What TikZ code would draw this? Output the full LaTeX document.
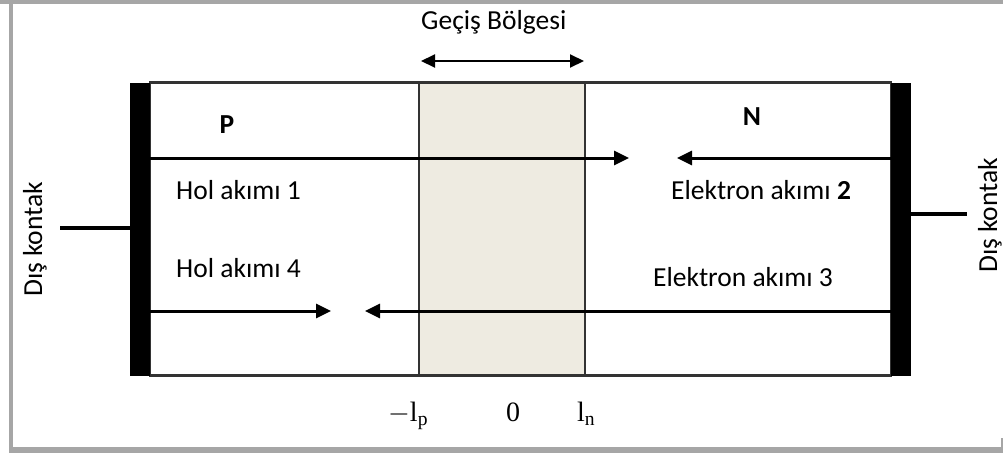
\documentclass[tikz,border=0pt]{standalone}
\usepackage{fix-cm}
\usepackage{fontspec}
\setmainfont{Carlito}
\setmathrm{Liberation Serif}
\usetikzlibrary{arrows.meta}

\definecolor{framegray}{HTML}{A6A6A6}
\definecolor{zonefill}{HTML}{EEEBE1}
\definecolor{edgegray}{HTML}{333333}

\begin{document}
\begin{tikzpicture}[x=1pt,y=-1pt,
  framepart/.style={fill=framegray,draw=none},
  contactbar/.style={fill=black,draw=none,inner sep=0pt,minimum width=20pt,minimum height=293pt},
  contactwire/.style={line width=4pt},
  current/.style={line width=3pt,-{Triangle[length=15pt,width=14pt]}},
  span/.style={line width=2pt,{Triangle[length=14pt,width=13pt]}-{Triangle[length=14pt,width=13pt]}},
  lbl/.style={font=\fontsize{27.5}{33}\selectfont,inner sep=0pt},
  mlbl/.style={font=\fontsize{28}{34}\selectfont,inner sep=0pt},
]
\useasboundingbox (0,0) rectangle (1003,453);

% outer frame
\fill[framepart] (0,0) rectangle (1003,4);
\fill[framepart] (9,0) rectangle (13,453);
\fill[framepart] (9,447) rectangle (1003,453);
\fill[framepart] (1001,438) rectangle (1003,447);

% semiconductor body and depletion zone
\node[draw=edgegray,line width=1.8pt,inner sep=0pt,minimum width=741pt,minimum height=292pt] (body) at (520.5,229) {};
\node[fill=zonefill,draw=edgegray,line width=1.5pt,inner sep=0pt,minimum width=166pt,minimum height=292pt] (zone) at (502,229) {};
\draw[edgegray,line width=1.8pt] (body.north west) -- (body.north east);
\draw[edgegray,line width=1.8pt] (body.south west) -- (body.south east);

% metal contacts
\node[contactbar] (pbar) at (140,229.5) {};
\node[contactbar] (nbar) at (901,229.5) {};
\coordinate (lwire) at (60,228);
\coordinate (rwire) at (967,214);
\draw[contactwire] (lwire) -- (lwire -| pbar.west);
\draw[contactwire] (nbar.east |- rwire) -- (rwire);

% width of the transition region
\coordinate (zl) at (421,61);
\coordinate (zr) at (584,61);
\draw[span] (zl) -- (zr);
\node[lbl,anchor=base west] (title) at (421,29) {Geçiş Bölgesi};

% currents
\coordinate (t1) at (629,158);
\coordinate (t2) at (677,158);
\coordinate (t4) at (331,311);
\coordinate (t3) at (365,311);
\draw[current] (t1 -| pbar.east) -- (t1);
\draw[current] (t2 -| nbar.west) -- (t2);
\draw[current] (t4 -| pbar.east) -- (t4);
\draw[current] (t3 -| nbar.west) -- (t3);

% labels
\node[lbl,font=\fontsize{27.5}{33}\selectfont\bfseries] (pside) at (227,125) {P};
\node[lbl,font=\fontsize{27.5}{33}\selectfont\bfseries] (nside) at (752,117) {N};
\node[lbl,anchor=base west] (c1) at (176,199) {Hol akımı 1};
\node[lbl,anchor=base west] (c4) at (176,277) {Hol akımı 4};
\node[lbl,anchor=base west] (c2) at (671,199) {Elektron akımı \textbf{2}};
\node[lbl,anchor=base west] (c3) at (653,286) {Elektron akımı 3};
\node[lbl,rotate=90,anchor=base west] (lk) at (42,297) {Dış kontak};
\node[lbl,rotate=90,anchor=base west] (rk) at (997,273) {Dış kontak};

% positions along the junction
\node[mlbl,anchor=base west] (xl) at (388,421) {$-\mathrm{l}_{\mathrm{p}}$};
\node[mlbl,anchor=base] (x0) at (513,421) {$\mathrm{0}$};
\node[mlbl,anchor=base west] (xr) at (577,421) {$\mathrm{l}_{\mathrm{n}}$};
\end{tikzpicture}
\end{document}
